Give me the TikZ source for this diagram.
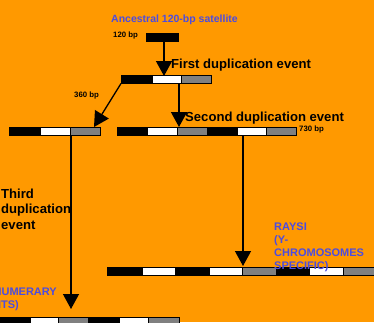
\documentclass[tikz,border=0pt]{standalone}
\usepackage{fontspec}
\setmainfont{Liberation Sans}
\usetikzlibrary{arrows.meta}
\definecolor{bgorange}{RGB}{255,153,0}
\definecolor{labblue}{RGB}{76,76,224}
\definecolor{seggray}{RGB}{128,128,128}
\begin{document}
\begin{tikzpicture}[x=1pt,y=-1pt,
  segB/.style={rectangle,draw=black,fill=black,line width=1pt,minimum height=8pt,inner sep=0pt,outer sep=0pt,anchor=west},
  segW/.style={segB,fill=white},
  segG/.style={segB,fill=seggray},
  arr/.style={-{Triangle[length=15pt,width=16pt]},line width=1.3pt},
  big/.style={font=\fontsize{13.1}{15}\selectfont\bfseries,anchor=base west,inner sep=0pt},
  small/.style={font=\fontsize{7.8}{9}\selectfont\bfseries,anchor=base west,inner sep=0pt},
  blue/.style={font=\fontsize{11}{13}\selectfont\bfseries,text=labblue,inner sep=0pt}]
\fill[bgorange] (0,0) rectangle (374,322);
\useasboundingbox (0,0) rectangle (374,322);

% ancestral monomer
\node[segB,minimum width=32pt] (top) at (146,37) {};
% first duplication (360 bp)
\node[segB,minimum width=31pt] (r1a) at (121,79.5) {};
\node[segW,minimum width=29pt] (r1b) at (152,79.5) {};
\node[segG,minimum width=30pt] (r1c) at (181,79.5) {};
% second row left
\node[segB,minimum width=31pt] (r2a) at (9,131.5) {};
\node[segW,minimum width=30pt] (r2b) at (40,131.5) {};
\node[segG,minimum width=30pt] (r2c) at (70,131.5) {};
% second row right (730 bp)
\node[segB,minimum width=30pt] (r2d) at (117,131.5) {};
\node[segW,minimum width=30pt] (r2e) at (147,131.5) {};
\node[segG,minimum width=30pt] (r2f) at (177,131.5) {};
\node[segB,minimum width=30pt] (r2g) at (207,131.5) {};
\node[segW,minimum width=29pt] (r2h) at (237,131.5) {};
\node[segG,minimum width=30pt] (r2i) at (266,131.5) {};
% third row right
\node[segB,minimum width=35.5pt] (r3a) at (107,271) {};
\node[segW,minimum width=32.5pt] (r3b) at (142.5,271) {};
\node[segB,minimum width=34pt] (r3c) at (175,271) {};
\node[segW,minimum width=33.5pt] (r3d) at (209,271) {};
\node[segG,minimum width=33.5pt] (r3e) at (242.5,271) {};
\node[segB,minimum width=33.5pt] (r3f) at (276,271) {};
\node[segW,minimum width=33.5pt] (r3g) at (309.5,271) {};
\node[segG,minimum width=33.5pt] (r3h) at (343,271) {};
% third row left
\node[segB,minimum width=31pt] (r4a) at (-1,321) {};
\node[segW,minimum width=28pt] (r4b) at (30,321) {};
\node[segG,minimum width=30pt] (r4c) at (58,321) {};
\node[segB,minimum width=31pt] (r4d) at (88,321) {};
\node[segW,minimum width=29pt] (r4e) at (119,321) {};
\node[segG,minimum width=31pt] (r4f) at (148,321) {};

% arrow end points
\coordinate (a1s) at (164,41);
\coordinate (a1e) at (164,76);
\coordinate (a2e) at (94,127);
\coordinate (a3s) at (179,84);
\coordinate (a3e) at (179,127);
\coordinate (a4s) at (71,136);
\coordinate (a4e) at (71,309);
\coordinate (a5s) at (243,136);
\coordinate (a5e) at (243,266);

\draw[arr] (a1s) -- (a1e);
\draw[arr] (r1a.south west) -- (a2e);
\draw[arr] (a3s) -- (a3e);
\draw[arr] (a4s) -- (a4e);
\draw[arr] (a5s) -- (a5e);

% labels
\node[blue,font=\fontsize{10.5}{12}\selectfont\bfseries,anchor=base west] (anc) at (111,22) {Ancestral 120-bp satellite};
\node[small] (l120) at (113,37) {120 bp};
\node[small] (l360) at (74,97) {360 bp};
\node[small] (l730) at (299,131) {730 bp};
\node[big] (fd) at (171,68) {First duplication event};
\node[big] (sd) at (185,121) {Second duplication event};
\node[big] (td1) at (1,198) {Third};
\node[big] (td2) at (1,213.5) {duplication};
\node[big] (td3) at (1,229) {event};
\node[blue,anchor=base west] (ry1) at (274,230.5) {RAYSI};
\node[blue,anchor=base west] (ry2) at (274,243.5) {(Y-};
\node[blue,anchor=base west] (ry3) at (274,256.5) {CHROMOSOMES};
\node[blue,anchor=base west] (ry4) at (274,269.5) {SPECIFIC)};
\node[blue,anchor=base east] (sn1) at (57,295) {NUMERARY};
\node[blue,anchor=base east] (sn2) at (19,308) {ITS)};
\end{tikzpicture}
\end{document}
